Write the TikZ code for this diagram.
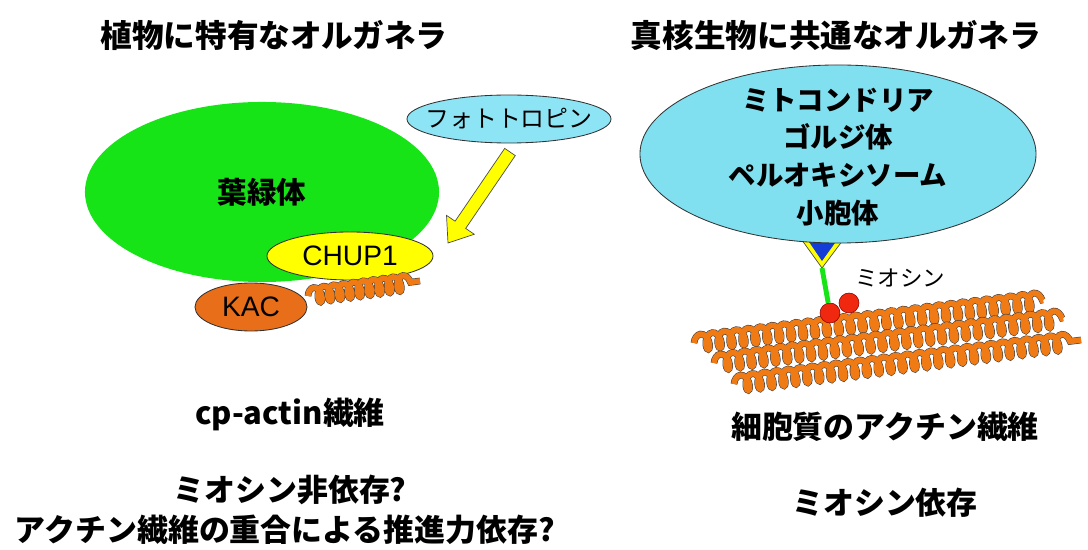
\documentclass[tikz,border=0pt]{standalone}
\usepackage{fontspec}
\setmainfont{Noto Sans CJK JP}
\newfontfamily\latinfont{Liberation Sans}
\usetikzlibrary{shapes.geometric,decorations.pathmorphing,calc}

\definecolor{chloroGreen}{RGB}{22,228,22}
\definecolor{paleCyan}{RGB}{140,228,245}
\definecolor{orgCyan}{RGB}{128,224,240}
\definecolor{chupYellow}{RGB}{255,255,0}
\definecolor{actinOrange}{RGB}{240,122,20}
\definecolor{kacOrange}{RGB}{232,110,25}
\definecolor{adaptBlue}{RGB}{20,60,215}
\definecolor{headRed}{RGB}{240,40,15}

\tikzset{
  heading/.style={font=\fontsize{22.5}{26}\selectfont\bfseries},
  caption/.style={font=\fontsize{22}{26}\selectfont\bfseries},
  blob/.style={ellipse, inner sep=0pt, draw=black!80, line width=0.6pt},
  actin/.style 2 args={decorate, decoration={coil, aspect=0.55, amplitude=#1, segment length=#2},
    draw=black!75, line width=0.4pt, double=actinOrange, double distance=4pt},
  mhead/.style={circle, fill=headRed, draw=red!55!black, line width=0.4pt, minimum size=0.5cm, inner sep=0pt}
}

\begin{document}
\begin{tikzpicture}[x=0.025cm, y=-0.025cm]
        \useasboundingbox (0,0) rectangle (1088,550);

        % 見出し
        \node[heading] (leftTitle) at (274,35) {植物に特有なオルガネラ};
        \node[heading] (rightTitle) at (836,35) {真核生物に共通なオルガネラ};

        % 葉緑体とCHUP1, KAC
        \node[blob, draw=none, fill=chloroGreen, minimum width=8.85cm, minimum height=4.5cm,
              font=\fontsize{21}{24}\selectfont\bfseries] (chloro) at (262,192) {葉緑体};
        \node[blob, fill=chupYellow, minimum width=4.15cm, minimum height=1.2cm,
              font=\latinfont\fontsize{20}{24}\selectfont] (chup) at (350,256) {CHUP1};
        \coordinate (cpL) at (308,296);
        \coordinate (cpR) at (420,281);
        \draw[actin={0.19cm}{0.25cm}] (cpL) -- (cpR);
        \node[blob, fill=kacOrange, minimum width=2.8cm, minimum height=1.2cm,
              font=\latinfont\fontsize{20}{24}\selectfont] (kac) at (251,307) {KAC};

        % フォトトロピンからの矢印
        \node[blob, fill=paleCyan, minimum width=5.1cm, minimum height=1.2cm] (photo) at (509,119) {};
        \node[font=\fontsize{17}{20}\selectfont] (photoText) at (photo.center) {フォトトロピン};
        \coordinate (arrTail) at (510,152);
        \coordinate (arrTip) at (448,243);
        \coordinate (arrBase) at ($(arrTip)!0.55cm!(arrTail)$);
        \draw[fill=chupYellow, draw=black!70, line width=0.5pt]
              ($(arrTail)!0.16cm!90:(arrTip)$) -- ($(arrBase)!0.16cm!90:(arrTip)$)
              -- ($(arrBase)!0.42cm!90:(arrTip)$) -- (arrTip)
              -- ($(arrBase)!0.42cm!-90:(arrTip)$) -- ($(arrBase)!0.16cm!-90:(arrTip)$)
              -- ($(arrTail)!0.16cm!-90:(arrTip)$) -- cycle;

        % アダプター(三角形)
        \coordinate (adL) at (799,236);
        \coordinate (adR) at (846,236);
        \coordinate (adTip) at (822,268);
        \draw[fill=chupYellow, draw=black!70, line width=0.5pt] (adL) -- (adR) -- (adTip) -- cycle;
        \fill[adaptBlue] ($(adL)+(6,0)$) -- ($(adR)+(-6,0)$) -- ($(adTip)+(0,-7)$) -- cycle;

        % オルガネラ
        \node[blob, fill=orgCyan, minimum width=9.9cm, minimum height=4.45cm] (organelle) at (838,154) {};
        \node[align=center, font=\fontsize{19.5}{26.8}\selectfont\bfseries] (organelleText)
              at ($(organelle.center)+(0,3)$) {ミトコンドリア\\ゴルジ体\\ペルオキシソーム\\小胞体};

        % 細胞質のアクチン繊維
        \foreach \n/\a/\b in {1/{694,343}/{1043,300}, 2/{714,363}/{1063,318}, 3/{734,384}/{1081,340}} {
            \coordinate (fL\n) at (\a);
            \coordinate (fR\n) at (\b);
            \draw[actin={0.2cm}{0.3cm}] (fL\n) -- (fR\n);
        }

        % ミオシン
        \node[mhead] (headA) at (830,313) {};
        \node[mhead] (headB) at (849,303) {};
        \draw[chloroGreen, line width=3.5pt] (adTip) -- (headA);
        \node[font=\fontsize{16}{19}\selectfont] (myoLabel) at (900,278) {ミオシン};

        % 説明
        \node[caption] (cpText) at (290,414) {cp-actin繊維};
        \node[caption] (noMyo) at (290,490) {ミオシン非依存?};
        \node[caption] (polymer) at (285,530) {アクチン繊維の重合による推進力依存?};
        \node[caption] (cytoText) at (885,427) {細胞質のアクチン繊維};
        \node[caption] (withMyo) at (885,503) {ミオシン依存};
\end{tikzpicture}
\end{document}
